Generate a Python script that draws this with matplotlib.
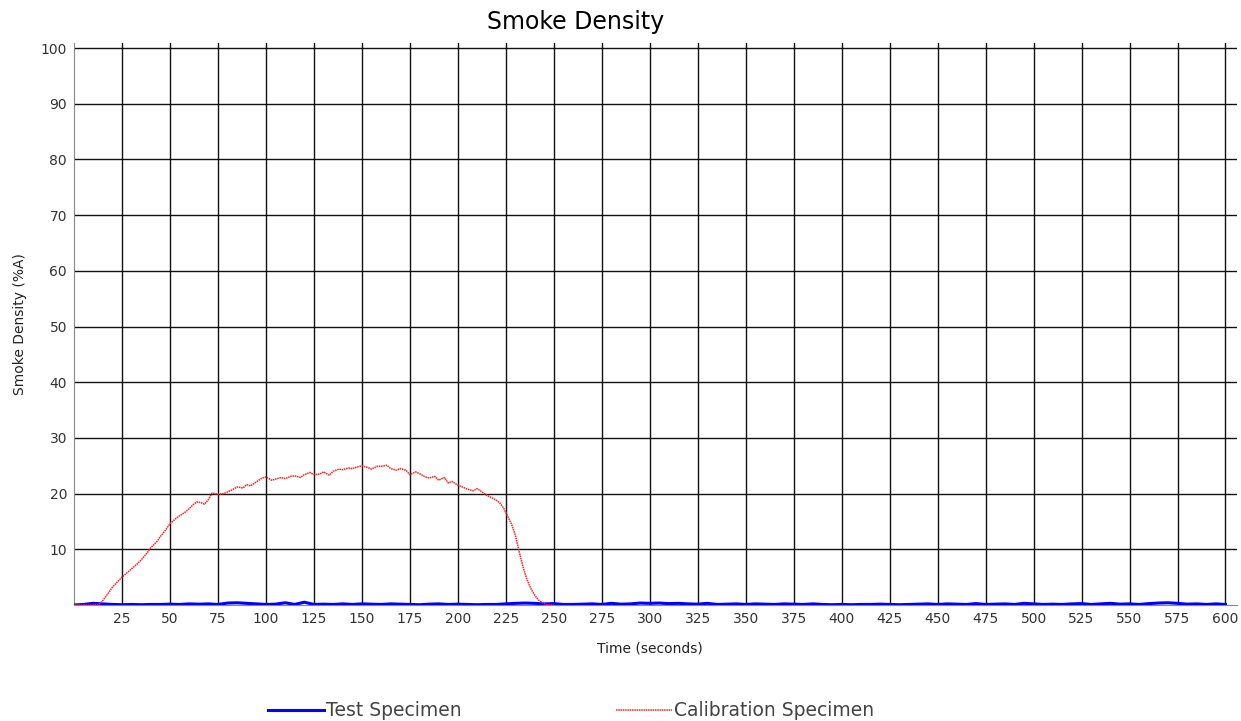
import matplotlib
matplotlib.use("Agg")
import matplotlib.pyplot as plt

# calibration specimen readings (time s, %A)
calib_t = [0, 5, 10, 13, 15, 18, 20, 23, 25, 28, 30, 33, 35, 38, 40, 43, 45, 48, 50, 53,
           55, 58, 60, 62, 64, 66, 68, 70, 72, 75, 78, 80, 83, 85, 88, 90, 92, 95, 98, 100,
           103, 105, 108, 110, 113, 115, 118, 120, 123, 125, 128, 130, 133, 135, 138, 140,
           143, 145, 148, 150, 153, 155, 158, 160, 163, 165, 168, 170, 173, 175, 178, 180,
           183, 185, 188, 190, 193, 195, 197, 200, 203, 205, 208, 210, 213, 215, 218, 220,
           222, 224, 226, 228, 230, 232, 234, 236, 238, 240, 242, 244, 246, 248, 250]
calib_v = [0, 0, 0, 0.1, 0.8, 2.2, 3.2, 4.3, 5.0, 5.9, 6.5, 7.4, 8.1, 9.3, 10.3, 11.3, 12.3,
           13.6, 14.6, 15.5, 16.0, 16.7, 17.3, 18.0, 18.5, 18.4, 18.1, 18.9, 20.1, 19.9, 20.0,
           20.3, 20.8, 21.2, 21.0, 21.6, 21.4, 22.1, 22.8, 23.0, 22.4, 22.6, 22.9, 22.7, 23.1,
           23.2, 22.9, 23.4, 23.8, 23.4, 23.5, 23.9, 23.3, 24.0, 24.4, 24.3, 24.6, 24.5, 24.8,
           25.0, 24.7, 24.4, 24.9, 24.9, 25.1, 24.5, 24.2, 24.5, 24.2, 23.4, 23.9, 23.6, 23.0,
           22.8, 23.1, 22.4, 22.9, 21.9, 22.2, 21.5, 21.1, 20.8, 20.5, 20.9, 20.2, 19.7, 19.2,
           18.8, 18.3, 17.3, 15.9, 14.5, 12.5, 9.5, 6.8, 4.6, 3.0, 1.8, 0.9, 0.4, 0.1, 0, 0]

# test specimen, one reading every 5 s from 0 to 600
test_v = [0.0, 0.1, 0.3, 0.2, 0.1, 0.05, 0.1, 0.05, 0.1, 0.1,
          0.15, 0.1, 0.2, 0.15, 0.2, 0.1, 0.35, 0.4, 0.3, 0.2,
          0.1, 0.15, 0.4, 0.1, 0.5, 0.1, 0.15, 0.1, 0.2, 0.1,
          0.2, 0.15, 0.1, 0.2, 0.15, 0.1, 0.05, 0.15, 0.2, 0.1,
          0.15, 0.1, 0.05, 0.1, 0.1, 0.2, 0.3, 0.35, 0.3, 0.2,
          0.25, 0.1, 0.1, 0.15, 0.2, 0.1, 0.3, 0.15, 0.2, 0.35,
          0.3, 0.35, 0.25, 0.3, 0.2, 0.15, 0.3, 0.1, 0.15, 0.2,
          0.1, 0.2, 0.15, 0.1, 0.2, 0.15, 0.1, 0.2, 0.1, 0.05,
          0.1, 0.05, 0.1, 0.1, 0.15, 0.1, 0.05, 0.1, 0.15, 0.2,
          0.1, 0.2, 0.15, 0.1, 0.25, 0.1, 0.15, 0.2, 0.1, 0.3,
          0.2, 0.1, 0.15, 0.1, 0.2, 0.25, 0.1, 0.2, 0.3, 0.15,
          0.2, 0.1, 0.25, 0.35, 0.4, 0.3, 0.15, 0.2, 0.1, 0.2,
          0.1]
test_t = [5 * i for i in range(len(test_v))]

x_ticks = list(range(25, 601, 25))
y_ticks = list(range(10, 101, 10))

fig = plt.figure(figsize=(12.41, 7.21), dpi=100)
ax = fig.add_axes([74 / 1241, 116 / 721, 1163 / 1241, 562 / 721])

ax.plot(test_t, test_v, color="#0000ff", lw=2.2, label="Test Specimen", zorder=3)
ax.plot(calib_t, calib_v, color="#ff2020", lw=1.1, ls=(0, (1, 0.5)),
        label="Calibration Specimen", zorder=4)

ax.set_xlim(0, 606)
ax.set_ylim(0, 100.9)
ax.set_xticks(x_ticks)
ax.set_yticks(y_ticks)
ax.grid(True, color="#111111", lw=1)
ax.set_axisbelow(True)
ax.tick_params(length=0, labelsize=10, labelcolor="#333333", pad=5)
for s in ["top", "right"]:
    ax.spines[s].set_visible(False)
ax.spines["left"].set_color("#888888")
ax.spines["bottom"].set_color("#888888")

fig.text(576 / 1241, 699 / 721, "Smoke Density", fontsize=17, ha="center", va="center")
ax.set_xlabel("Time (seconds)", fontsize=10, color="#222222")
ax.xaxis.set_label_coords((650 - 74) / 1163, -0.065)
ax.set_ylabel("Smoke Density (%A)", fontsize=10, color="#222222", labelpad=10)

fig.legend(loc="center", bbox_to_anchor=(571 / 1241, 10 / 721), ncol=2, frameon=False,
           fontsize=13.5, handlelength=3.0, handletextpad=0.1, columnspacing=8.2,
           labelcolor="#444444")

fig.savefig("out.png", dpi=100)
